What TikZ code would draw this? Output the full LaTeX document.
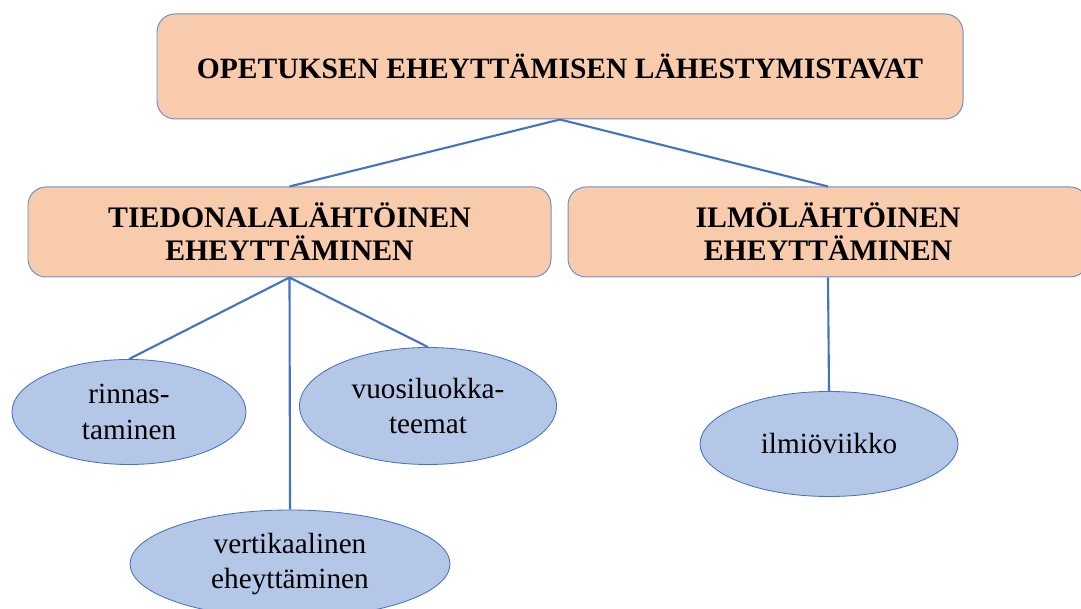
\documentclass[tikz,border=0pt]{standalone}
\usepackage{fontspec}
\setmainfont{Liberation Serif}
\usetikzlibrary{shapes.geometric}
\definecolor{peach}{HTML}{F8CBAD}
\definecolor{boxline}{HTML}{6F8FC9}
\definecolor{lightblue}{HTML}{B4C7E7}
\definecolor{linkblue}{HTML}{4472C4}
\tikzstyle{mainbox} = [
    rectangle,
    rounded corners=0.45cm,
    fill=peach,
    draw=boxline,
    line width=0.7pt,
    align=center,
    font=\fontsize{21}{24}\selectfont\bfseries
]
\tikzstyle{branchbox} = [
    mainbox,
    font=\fontsize{21.2}{23.5}\selectfont\bfseries
]
\tikzstyle{topic} = [
    ellipse,
    inner sep=0pt,
    fill=lightblue,
    draw=linkblue,
    line width=0.6pt,
    align=center,
    font=\fontsize{20.8}{25}\selectfont
]
\tikzstyle{link} = [linkblue, line width=1.5pt]

\begin{document}
\begin{tikzpicture}

\useasboundingbox (0,0) rectangle (27.025,15.225);

\node (top) [mainbox, minimum width=20.15cm, minimum height=2.625cm]
  at (14,13.5625) {OPETUKSEN EHEYTTÄMISEN LÄHESTYMISTAVAT};

\node (subject) [branchbox, minimum width=13.075cm, minimum height=2.25cm]
  at (7.2375,9.425) {TIEDONALALÄHTÖINEN\\EHEYTTÄMINEN};

\node (phenomenon) [branchbox, minimum width=13cm, minimum height=2.25cm]
  at (20.7,9.425) {ILMÖLÄHTÖINEN\\EHEYTTÄMINEN};

\node (parallel) [topic, minimum width=5.85cm, minimum height=2.625cm]
  at (3.225,4.925) {rinnas-\\taminen};

\node (vertical) [topic, minimum width=8cm, minimum height=2.7cm]
  at (7.25,1.125) {vertikaalinen\\eheyttäminen};

\node (gradetheme) [topic, minimum width=6.425cm, minimum height=2.925cm]
  at (10.7,5.075) {vuosiluokka-\\teemat};

\node (week) [topic, minimum width=6.45cm, minimum height=2.625cm]
  at (20.725,4.125) {ilmiöviikko};

\draw [link] (top.south) -- (subject.north);
\draw [link] (top.south) -- (phenomenon.north);
\draw [link] (subject.south) -- (parallel.north);
\draw [link] (subject.south) -- (vertical.north);
\draw [link] (subject.south) -- (gradetheme.north);
\draw [link] (phenomenon.south) -- (week.north);

\end{tikzpicture}
\end{document}
